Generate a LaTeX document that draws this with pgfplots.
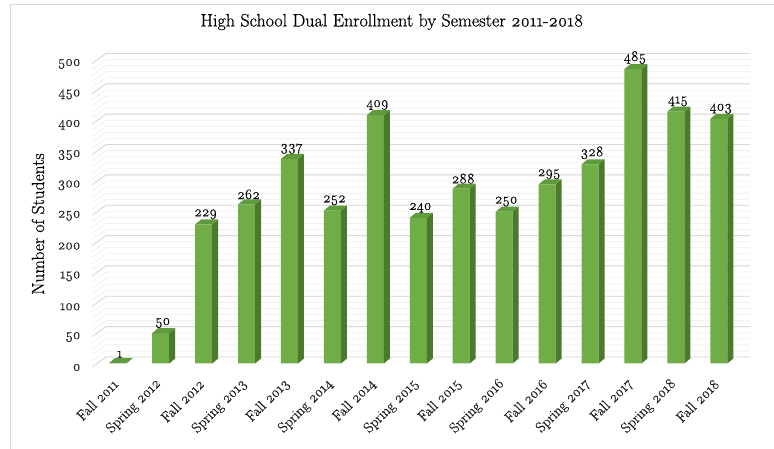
\documentclass[border=0pt]{standalone}
\usepackage{fontspec}
\setmainfont{Latin Modern Roman}[Numbers=OldStyle, FakeBold=0.6]
\newfontfamily\heavy{Latin Modern Roman}[Numbers=OldStyle, FakeBold=0.6]
\usepackage{pgfplots}
\pgfplotsset{compat=1.18}

\definecolor{barfront}{HTML}{70AD47}
\definecolor{barside}{HTML}{4C7A2C}
\definecolor{bartop}{HTML}{5F9A3C}
\definecolor{gridmaj}{HTML}{D9D9D9}
\definecolor{gridmin}{HTML}{F0F0F0}
\definecolor{txt}{HTML}{1A1A1A}

% side and top faces of a 3d bar, drawn at the top centre of each bar
\pgfdeclareplotmark{bar3d}{%
  \pgfsetfillcolor{barside}%
  \pgfpathmoveto{\pgfpoint{8.5pt}{0pt}}%
  \pgfpathlineto{\pgfpoint{14.5pt}{5pt}}%
  \pgfpathlineto{\pgfpoint{14.5pt}{5pt-\rawy*0.607pt}}%
  \pgfpathlineto{\pgfpoint{8.5pt}{-\rawy*0.607pt}}%
  \pgfpathclose
  \pgfusepath{fill}%
  \pgfsetfillcolor{bartop}%
  \pgfpathmoveto{\pgfpoint{-8.5pt}{0pt}}%
  \pgfpathlineto{\pgfpoint{-2.5pt}{5pt}}%
  \pgfpathlineto{\pgfpoint{14.5pt}{5pt}}%
  \pgfpathlineto{\pgfpoint{8.5pt}{0pt}}%
  \pgfpathclose
  \pgfusepath{fill}%
}

\begin{document}
\begin{tikzpicture}
\path[use as bounding box] (0pt,0pt) rectangle (774pt,449pt);
\draw[gridmaj,line width=1pt] (10pt,444pt) -- (774pt,444pt);
\draw[gridmaj,line width=0.8pt] (10pt,444pt) -- (10pt,0pt);
\node[text=black,font=\heavy\fontsize{18}{21}\selectfont] at (392pt,427pt) {High School Dual Enrollment by Semester 2011-2018};
\node[text=black,font=\heavy\fontsize{17.5}{20}\selectfont,rotate=90] at (38pt,225pt) {Number of Students};

\begin{axis}[
  at={(92pt,85.5pt)}, anchor=south west,
  scale only axis, width=644pt, height=303.5pt,
  xmin=-0.6, xmax=14.4, ymin=0, ymax=500,
  clip=false,
  axis line style={draw=none},
  tick style={draw=none},
  ytick={0,50,...,500},
  xtick={0,...,14},
  xticklabels={Fall 2011,Spring 2012,Fall 2012,Spring 2013,Fall 2013,Spring 2014,Fall 2014,Spring 2015,Fall 2015,Spring 2016,Fall 2016,Spring 2017,Fall 2017,Spring 2018,Fall 2018},
  /pgf/number format/assume math mode=true,
  yticklabel style={font=\heavy\fontsize{14.5}{16}\selectfont, text=txt, xshift=-8pt, yshift=-4pt},
  xticklabel style={font=\heavy\fontsize{14.5}{16}\selectfont, text=txt, anchor=east, yshift=-18pt, xshift=-2pt, rotate=45, inner sep=0pt},
]
% back wall and floor grid
\pgfplotsinvokeforeach{0,10,...,500}{
  \draw[gridmin,line width=0.8pt] ([yshift=-3.5pt]axis cs:-0.6,#1) -- ([xshift=14pt,yshift=6.5pt]axis cs:-0.6,#1) -- ([xshift=14pt,yshift=6.5pt]axis cs:14.4,#1);
}
\pgfplotsinvokeforeach{0,50,...,500}{
  \draw[gridmaj,line width=0.9pt] ([yshift=-3.5pt]axis cs:-0.6,#1) -- ([xshift=14pt,yshift=6.5pt]axis cs:-0.6,#1) -- ([xshift=14pt,yshift=6.5pt]axis cs:14.4,#1);
}

\addplot[ybar, bar width=17pt, fill=barfront, draw=none] coordinates {
  (0,1) (1,50) (2,229) (3,262) (4,337) (5,252) (6,409) (7,240)
  (8,288) (9,250) (10,295) (11,328) (12,485) (13,415) (14,403)
};
\addplot[only marks, mark=bar3d,
  visualization depends on={rawy \as \rawy},
  point meta=rawy,
  nodes near coords,
  every node near coord/.style={anchor=south, yshift=4pt, xshift=2pt, inner sep=1pt, text=black, font=\heavy\fontsize{14.5}{16}\selectfont},
] coordinates {
  (0,1) (1,50) (2,229) (3,262) (4,337) (5,252) (6,409) (7,240)
  (8,288) (9,250) (10,295) (11,328) (12,485) (13,415) (14,403)
};
\end{axis}
\end{tikzpicture}
\end{document}
